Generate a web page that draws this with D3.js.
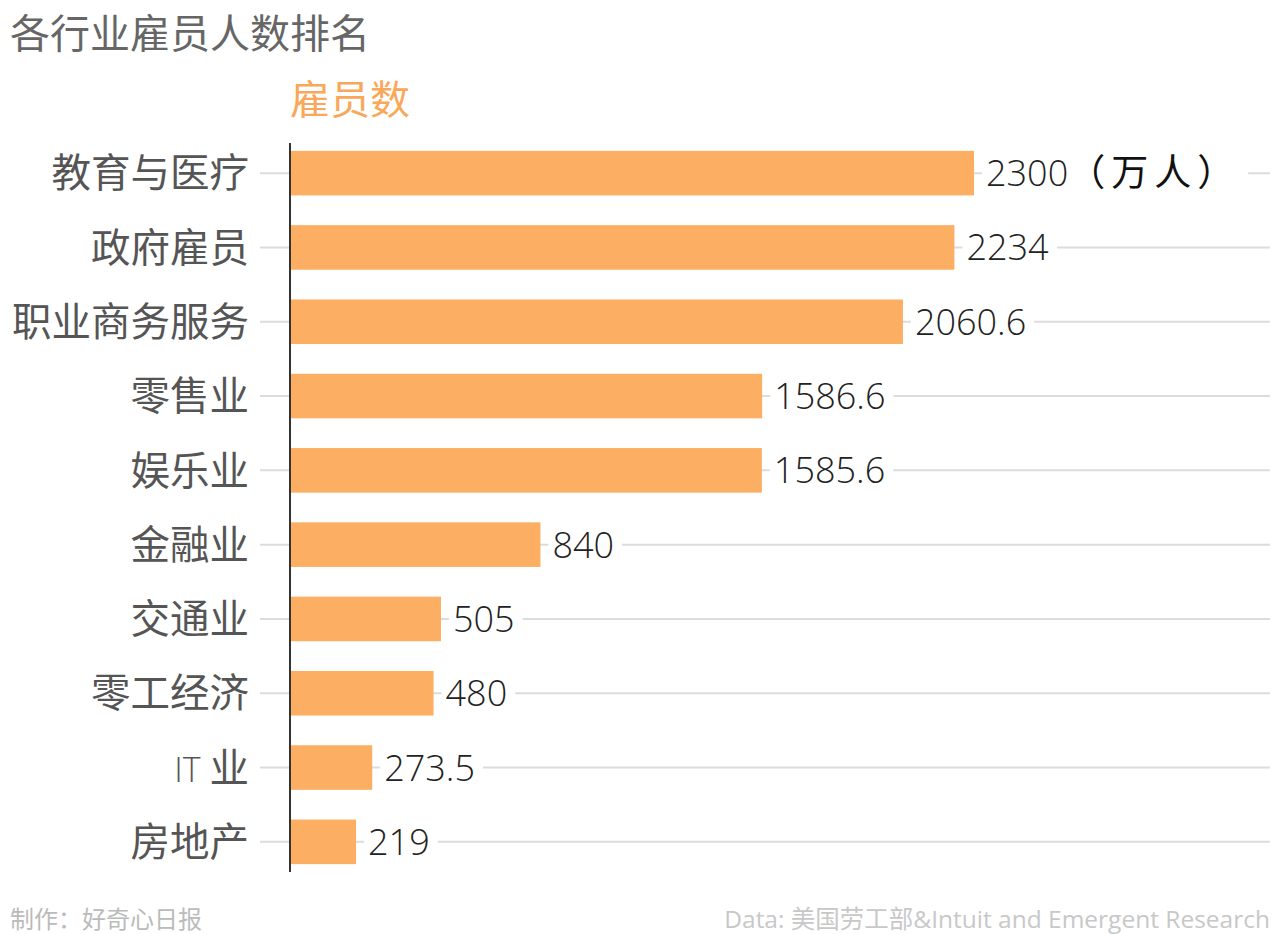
<!DOCTYPE html>
<html>
<head>
<meta charset="utf-8">
<script src="https://cdn.jsdelivr.net/npm/d3@7"></script>
<style>
  body { margin: 0; background: #fff; }
  svg text { font-family: "Noto Sans CJK SC", "Open Sans", sans-serif; }
</style>
</head>
<body>
<div id="chart"></div>
<script>
// data
var categories = ["教育与医疗", "政府雇员", "职业商务服务", "零售业", "娱乐业", "金融业", "交通业", "零工经济", "IT 业", "房地产"];
var employees = [2300, 2234, 2060.6, 1586.6, 1585.6, 840, 505, 480, 273.5, 219];
var valueLabels = ["2300", "2234", "2060.6", "1586.6", "1585.6", "840", "505", "480", "273.5", "219"];

var W = 1280, H = 934;
var barColor = "#fcae62";

var svg = d3.select("#chart").append("svg")
    .attr("width", W)
    .attr("height", H);

// title + series label
svg.append("text")
    .attr("x", 10).attr("y", 48)
    .style("font-size", "40px")
    .style("fill", "#666")
    .text("各行业雇员人数排名");

svg.append("text")
    .attr("x", 290).attr("y", 114)
    .style("font-size", "40px")
    .style("fill", "#f9a85a")
    .text("雇员数");

var x = d3.scaleLinear().domain([0, 2300]).range([291, 974]);
var y = d3.scaleBand().domain(categories)
    .range([136, 879])
    .paddingInner(0.4)
    .paddingOuter(0.2);

var rows = categories.map(function(c, i) {
  return {name: c, value: employees[i], label: valueLabels[i]};
});

// gridlines behind everything
svg.append("g").selectAll("line")
    .data(rows).enter().append("line")
    .attr("x1", 260).attr("x2", 1270)
    .attr("y1", function(d) { return y(d.name) + y.bandwidth()/2; })
    .attr("y2", function(d) { return y(d.name) + y.bandwidth()/2; })
    .style("stroke", "#dcdcdc")
    .style("stroke-width", 2);

// bars
svg.append("g").selectAll("rect")
    .data(rows).enter().append("rect")
    .attr("x", x(0))
    .attr("y", function(d) { return y(d.name); })
    .attr("width", function(d) { return x(d.value) - x(0); })
    .attr("height", y.bandwidth())
    .style("fill", barColor);

// value labels, white box so the gridline stops before them
var vl = svg.append("g").selectAll("g")
    .data(rows).enter().append("g")
    .attr("transform", function(d) {
      return "translate(" + (x(d.value) + 12) + "," + (y(d.name) + y.bandwidth()/2) + ")";
    });

vl.append("rect").attr("class", "bg").style("fill", "#fff");

var vt = vl.append("text")
    .attr("dy", "0.36em")
    .style("font-family", "'Open Sans', sans-serif")
    .style("font-weight", 300)
    .style("font-size", "36px")
    .style("fill", "#222");
vt.append("tspan").text(function(d) { return d.label; });
vt.filter(function(d, i) { return i == 0; })
  .append("tspan")
    .style("font-family", "'Noto Sans CJK SC', sans-serif")
    .style("font-weight", 400)
    .style("font-size", "37px")
    .style("letter-spacing", "6px")
    .style("fill", "#111")
    .text("（万人）");

vl.each(function() {
  var g = d3.select(this);
  var bb = g.select("text").node().getBBox();
  g.select("rect.bg")
    .attr("x", -4).attr("y", -20)
    .attr("width", bb.width + 12)
    .attr("height", 40);
});

// category labels
svg.append("g").selectAll("text")
    .data(rows).enter().append("text")
    .attr("x", 249)
    .attr("y", function(d) { return y(d.name) + y.bandwidth()/2; })
    .attr("dy", "0.36em")
    .attr("text-anchor", "end")
    .style("font-size", "39.5px")
    .style("fill", "#555")
    .each(function(d) {
      var t = d3.select(this);
      if (d.name.indexOf("IT") == 0) {
        t.append("tspan")
          .style("font-family", "'Open Sans', sans-serif")
          .style("font-weight", 300)
          .style("font-size", "34px")
          .text("IT ");
        t.append("tspan").text("业");
      } else {
        t.text(d.name);
      }
    });

// axis line
svg.append("line")
    .attr("x1", 290).attr("x2", 290)
    .attr("y1", 143).attr("y2", 872)
    .style("stroke", "#333")
    .style("stroke-width", 2);

// footer
svg.append("text")
    .attr("x", 10).attr("y", 928)
    .style("font-size", "24px")
    .style("fill", "#bbb")
    .text("制作：好奇心日报");

svg.append("text")
    .attr("x", 1270).attr("y", 928)
    .attr("text-anchor", "end")
    .style("font-family", "'Open Sans', 'Noto Sans CJK SC', sans-serif")
    .style("font-size", "24.5px")
    .style("fill", "#c8c8c8")
    .text("Data: 美国劳工部&Intuit and Emergent Research");
</script>
</body>
</html>
